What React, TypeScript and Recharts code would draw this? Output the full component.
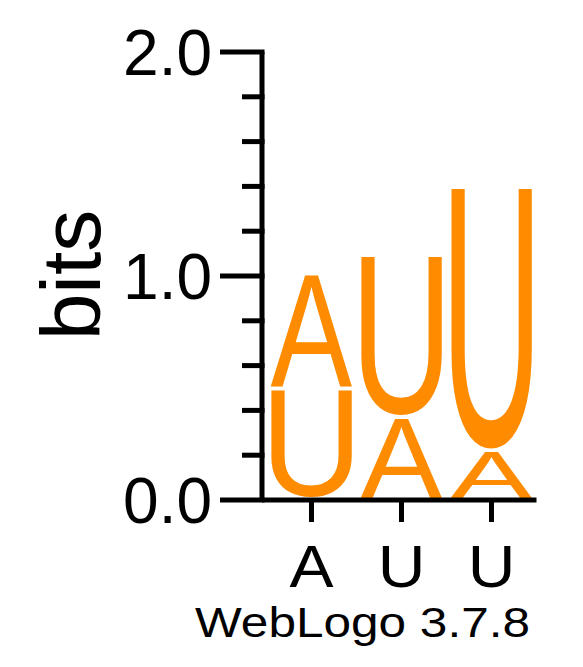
import React from 'react';
import { BarChart, Bar, XAxis, YAxis, Label } from 'recharts';

const positions = ['A', 'U', 'U'];
const bottomLetters = ['U', 'A', 'A'];
const bottomBits = [0.496, 0.371, 0.221];
const topLetters = ['A', 'U', 'U'];
const topBits = [0.513, 0.723, 1.18];
const yTicks = [0, 0.2, 0.4, 0.6, 0.8, 1.0, 1.2, 1.4, 1.6, 1.8, 2.0];
const yLabels = ['0.0', '', '', '', '', '1.0', '', '', '', '', '2.0'];

const ORANGE = '#ff8c00';
const FONT = '"Liberation Sans", Arial, Helvetica, sans-serif';

const data = positions.map((pos, i) => ({
  pos,
  bottom: bottomBits[i],
  top: topBits[i],
  bottomLetter: bottomLetters[i],
  topLetter: topLetters[i],
}));

// ink box of a glyph at 100px, measured once with a canvas
const inkCache: Record<string, { l: number; r: number; a: number; d: number }> = {};
const ink = (ch: string) => {
  if (!inkCache[ch]) {
    const ctx = document.createElement('canvas').getContext('2d')!;
    ctx.font = `100px ${FONT}`;
    const m = ctx.measureText(ch);
    inkCache[ch] = {
      l: -m.actualBoundingBoxLeft,
      r: m.actualBoundingBoxRight,
      a: m.actualBoundingBoxAscent,
      d: m.actualBoundingBoxDescent,
    };
  }
  return inkCache[ch];
};

const letterShape = (key: 'bottomLetter' | 'topLetter') => (props: any) => {
  const { x, y, width, height, index } = props;
  const ch = props.payload?.[key] ?? data[index][key];
  const g = ink(ch);
  const gap = 2;
  const sx = width / (g.r - g.l);
  const sy = (height - 2 * gap) / (g.a + g.d);
  const tx = x - g.l * sx;
  const ty = y + height - gap - g.d * sy;
  return (
    <text
      transform={`translate(${tx},${ty}) scale(${sx},${sy})`}
      fontSize={100}
      fontFamily={FONT}
      fill={ORANGE}
    >
      {ch}
    </text>
  );
};

const YTick = (props: any) => {
  const { x, y, payload } = props;
  const label = yLabels[yTicks.indexOf(payload.value)] || '';
  const major = label !== '';
  return (
    <g>
      <line x1={major ? x - 42 : x - 20} x2={x + 2.5} y1={y} y2={y} stroke="#000" strokeWidth={5} />
      {major && (
        <text x={x - 50} y={y + 23} textAnchor="end" fontSize={64} fontFamily={FONT} fill="#000">
          {label}
        </text>
      )}
    </g>
  );
};

const XTick = (props: any) => {
  const { x, y, payload } = props;
  return (
    <g>
      <line x1={x} x2={x} y1={y} y2={y + 22} stroke="#000" strokeWidth={5} />
      <text
        transform={`translate(${x},${y + 87}) scale(1.1,1)`}
        textAnchor="middle"
        fontSize={60}
        fontFamily={FONT}
        fill="#000"
      >
        {payload.value}
      </text>
    </g>
  );
};

const bitsLabel = () => (
  <text transform="translate(100,275) rotate(-90)" textAnchor="middle" fontSize={84} fontFamily={FONT} fill="#000">
    bits
  </text>
);

const creditLabel = () => (
  <text x={195} y={637} fontSize={43} fontFamily={FONT} fill="#000" textLength={335} lengthAdjust="spacingAndGlyphs">
    WebLogo 3.7.8
  </text>
);

export default function App() {
  return (
    <div style={{ position: 'absolute', left: 0, top: 0, width: 583, height: 667, background: '#fff' }}>
      <BarChart
        width={583}
        height={667}
        data={data}
        margin={{ top: 52, right: 46.5, left: 0, bottom: 0 }}
        barCategoryGap={0}
      >
        <XAxis
          dataKey="pos"
          height={167}
          padding={{ left: 4.5, right: 0 }}
          axisLine={{ stroke: '#000', strokeWidth: 5 }}
          tickLine={false}
          tickSize={0}
          tickMargin={0}
          interval={0}
          tick={<XTick />}
        >
          <Label content={creditLabel} />
        </XAxis>
        <YAxis
          type="number"
          domain={[0, 2]}
          ticks={yTicks}
          interval={0}
          width={262}
          axisLine={{ stroke: '#000', strokeWidth: 5 }}
          tickLine={false}
          tickSize={0}
          tickMargin={0}
          tick={<YTick />}
          allowDataOverflow
        >
          <Label content={bitsLabel} />
        </YAxis>
        <Bar dataKey="bottom" stackId="s" barSize={82} shape={letterShape('bottomLetter')} isAnimationActive={false} />
        <Bar dataKey="top" stackId="s" barSize={82} shape={letterShape('topLetter')} isAnimationActive={false} />
      </BarChart>
    </div>
  );
}
